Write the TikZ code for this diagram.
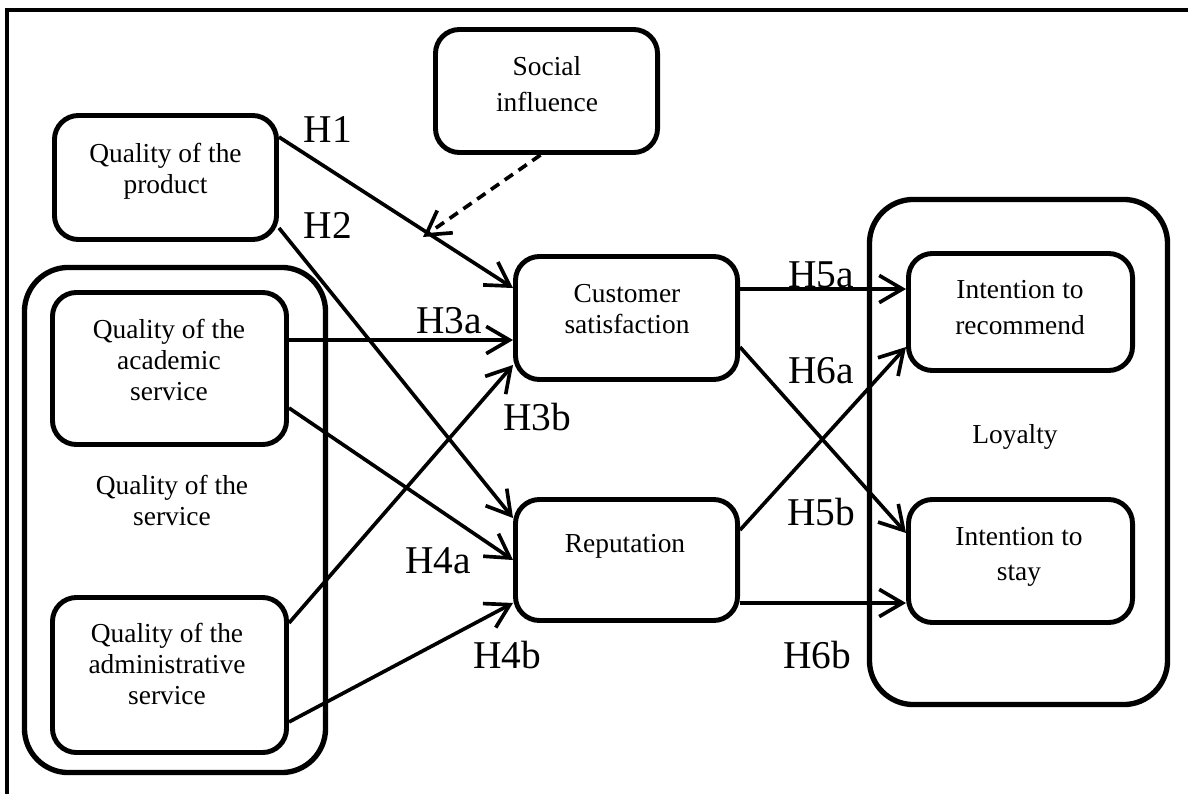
\documentclass[tikz,border=0pt]{standalone}
\usepackage{fontspec}
\setmainfont{Liberation Serif}
\usetikzlibrary{arrows.meta,calc}
\newcommand\btxt{\fontsize{19.5}{22}\selectfont}
\newcommand\hfont{\fontsize{28}{30}\selectfont}
\begin{document}
\begin{tikzpicture}[x=0.025cm,y=-0.025cm,
  box/.style={draw, line width=3.5pt, rounded corners=0.6cm, inner sep=0pt},
  group/.style={draw, line width=3.8pt, rounded corners=1.1cm, inner sep=0pt},
  txt/.style={align=center, font=\btxt, anchor=base, inner sep=0pt},
  hlab/.style={font=\hfont, anchor=base, inner sep=0pt},
  arr/.style={line width=2.6pt, -{Straight Barb[length=0.58cm,width=0.68cm]}},
  darr/.style={arr, dash pattern=on 0.25cm off 0.17cm}]
\useasboundingbox (0,0) rectangle (1188,794);
\draw[line width=2.2pt] (7,10) rectangle (1210,820);

% groups
\node[group, minimum width=7.525cm, minimum height=12.625cm] (svc) at (175,520) {};
\node[group, minimum width=7.45cm, minimum height=12.625cm] (loyal) at (1018.5,452) {};

% boxes
\node[box, minimum width=5.55cm, minimum height=3.1cm] (prod) at (165.5,177.5) {};
\node[box, minimum width=5.55cm, minimum height=3.075cm] (social) at (546.5,91) {};
\node[box, minimum width=5.85cm, minimum height=3.8cm] (acad) at (169.5,368.5) {};
\node[box, minimum width=5.85cm, minimum height=3.875cm] (admin) at (169.5,675) {};
\node[box, minimum width=5.55cm, minimum height=3.075cm] (cs) at (626.5,318) {};
\node[box, minimum width=5.55cm, minimum height=3.025cm] (rep) at (626.5,560) {};
\node[box, minimum width=5.6cm, minimum height=2.925cm] (ir) at (1020.5,312) {};
\node[box, minimum width=5.6cm, minimum height=3.075cm] (is) at (1020.5,561) {};

% texts (anchor = baseline of last line)
\node[txt] (prodtxt) at (165.5,193) {Quality of the\\product};
\node[txt] (socialtxt) at (547,112) {Social\\[0.15cm]influence};
\node[txt] (acadtxt) at (169,400) {Quality of the\\academic\\service};
\node[txt] (admintxt) at (167,704) {Quality of the\\administrative\\service};
\node[txt] (svctxt) at (172,525) {Quality of the\\service};
\node[txt] (cstxt) at (627,333) {Customer\\satisfaction};
\node[txt] (reptxt) at (625,552) {Reputation};
\node[txt] (irtxt) at (1020,334) {Intention to\\[0.12cm]recommend};
\node[txt] (istxt) at (1019,580) {Intention to\\[0.1cm]stay};
\node[txt] (loyaltxt) at (1015,443) {Loyalty};

% hypothesis labels
\node[hlab] (h1) at (328,143) {H1};
\node[hlab] (h2) at (328,238) {H2};
\node[hlab] (h3a) at (449,333) {H3a};
\node[hlab] (h3b) at (537,430) {H3b};
\node[hlab] (h4a) at (438,573) {H4a};
\node[hlab] (h4b) at (507,668) {H4b};
\node[hlab] (h5a) at (821,287) {H5a};
\node[hlab] (h6a) at (821,383) {H6a};
\node[hlab] (h5b) at (821,525) {H5b};
\node[hlab] (h6b) at (817,668) {H6b};

% connectors
\coordinate (dtip) at (423,237);
\draw[arr] ($(prod.north east)+(0,24)$) -- ($(cs.north west)+(0,34)$);
\draw[arr] ($(prod.south east)+(0,-14)$) -- ($(rep.north west)+(0,21)$);
\draw[darr] ($(social.south)+(-6,0)$) -- (dtip);
\draw[arr] ($(acad.north east)+(0,50)$) -- ($(cs.north west)+(0,86)$);
\draw[arr] ($(admin.north east)+(0,28)$) -- ($(cs.south west)+(0,-17)$);
\draw[arr] ($(acad.south east)+(0,-39)$) -- ($(rep.north west)+(0,63)$);
\draw[arr] ($(admin.south east)+(0,-33)$) -- ($(rep.south west)+(0,-20)$);
\draw[arr] ($(cs.north east)+(0,35)$) -- ($(ir.north west)+(0,38)$);
\draw[arr] ($(cs.north east)+(0,93)$) -- ($(is.north west)+(0,36)$);
\draw[arr] ($(rep.north east)+(0,33)$) -- ($(ir.north west)+(0,96)$);
\draw[arr] ($(rep.south east)+(0,-20)$) -- ($(is.north west)+(0,106)$);
\end{tikzpicture}
\end{document}
